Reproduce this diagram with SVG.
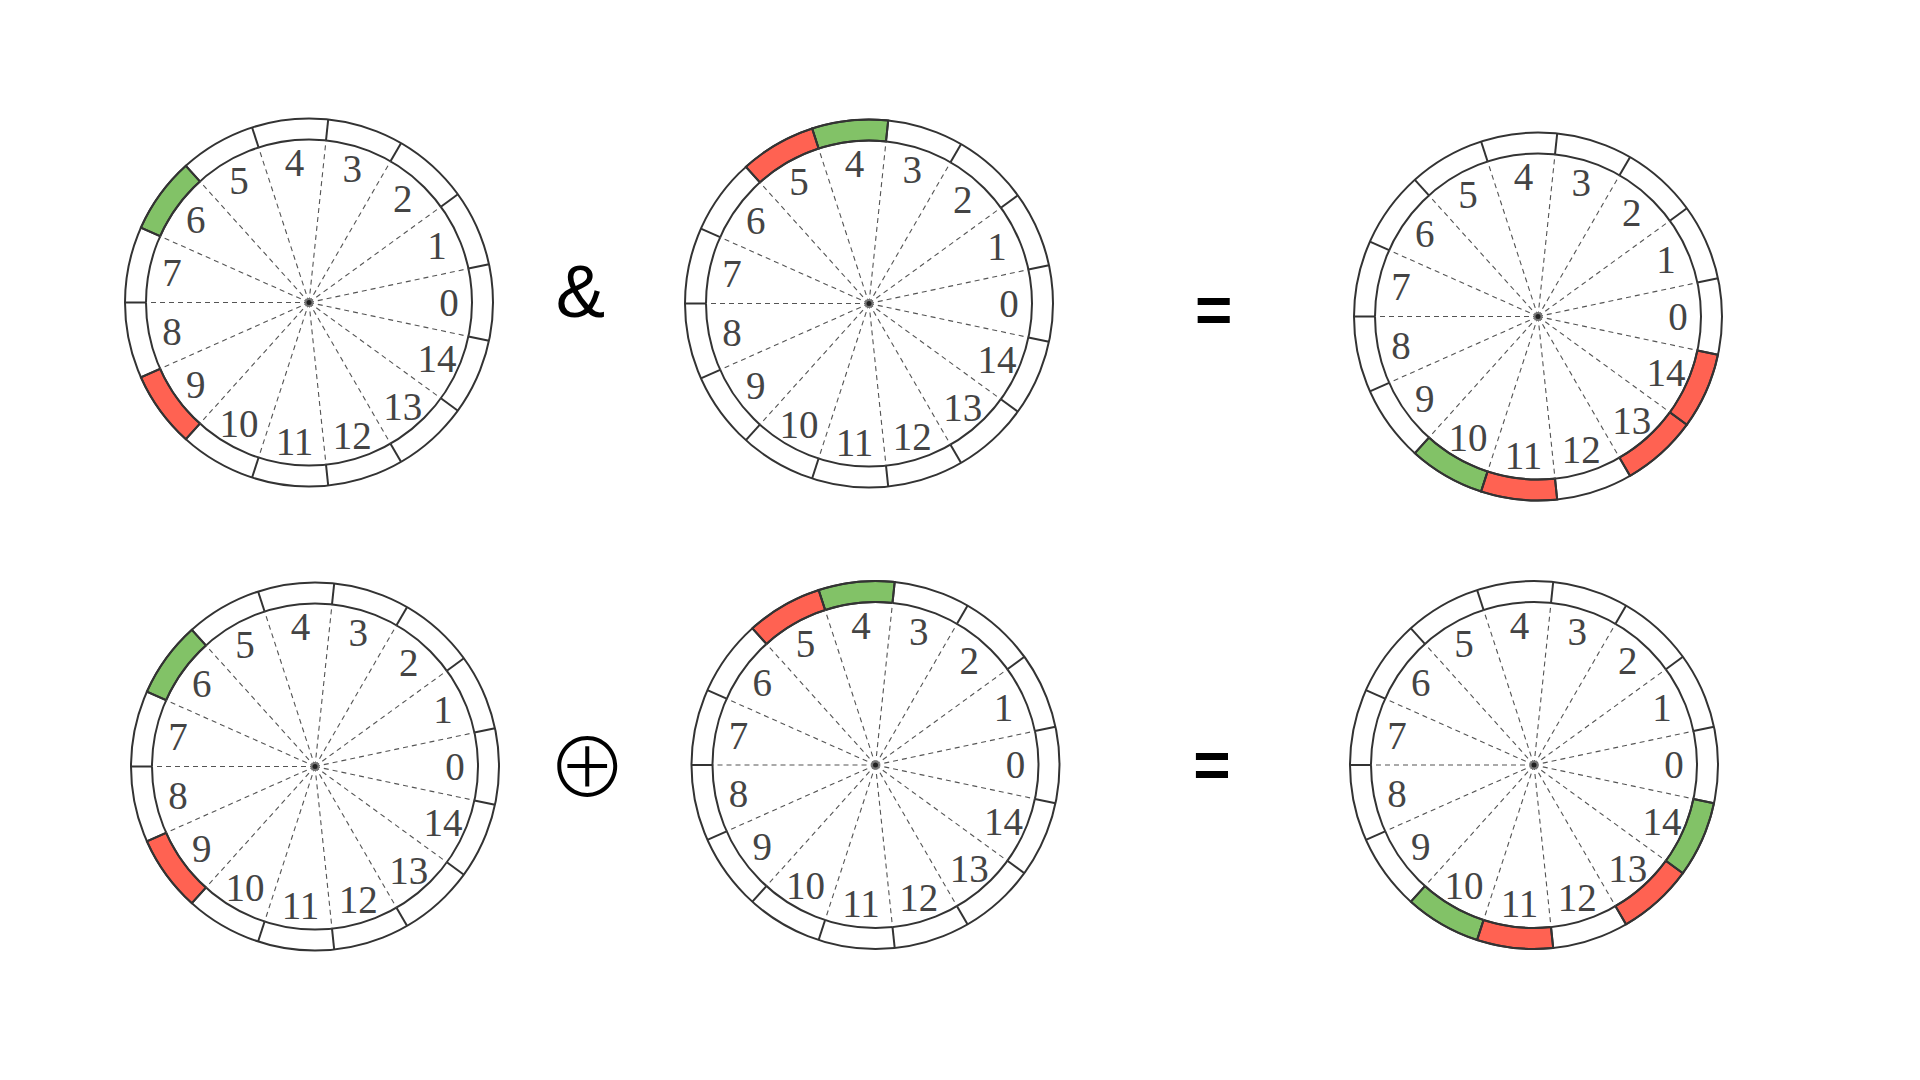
<svg xmlns="http://www.w3.org/2000/svg" xmlns:xlink="http://www.w3.org/1999/xlink" width="1920" height="1080" viewBox="0 0 1920 1080">
<style>
.ring{fill:none;stroke:#333;stroke-width:2}
.tick{stroke:#333;stroke-width:2}
.spoke{stroke:#555;stroke-width:1.1;stroke-dasharray:5 4}
.seg{stroke:#333;stroke-width:2}
.g{fill:#82c267}
.r{fill:#ff6252}
.lbl{font-family:"Liberation Serif","DejaVu Serif",serif;font-size:39px;fill:#444;text-anchor:middle}
.op{font-family:"Liberation Sans","DejaVu Sans",sans-serif;fill:#000;text-anchor:middle}
</style>
<defs>
<g id="spokes">
<line class="spoke" x1="0" y1="0" x2="159.4" y2="-33.9"/>
<line class="spoke" x1="0" y1="0" x2="131.9" y2="-95.8"/>
<line class="spoke" x1="0" y1="0" x2="81.5" y2="-141.2"/>
<line class="spoke" x1="0" y1="0" x2="17.0" y2="-162.1"/>
<line class="spoke" x1="0" y1="0" x2="-50.4" y2="-155.0"/>
<line class="spoke" x1="0" y1="0" x2="-109.1" y2="-121.1"/>
<line class="spoke" x1="0" y1="0" x2="-148.9" y2="-66.3"/>
<line class="spoke" x1="0" y1="0" x2="-163" y2="0"/>
<line class="spoke" x1="0" y1="0" x2="-148.9" y2="66.3"/>
<line class="spoke" x1="0" y1="0" x2="-109.1" y2="121.1"/>
<line class="spoke" x1="0" y1="0" x2="-50.4" y2="155.0"/>
<line class="spoke" x1="0" y1="0" x2="17.0" y2="162.1"/>
<line class="spoke" x1="0" y1="0" x2="81.5" y2="141.2"/>
<line class="spoke" x1="0" y1="0" x2="131.9" y2="95.8"/>
<line class="spoke" x1="0" y1="0" x2="159.4" y2="33.9"/>
<circle cx="0" cy="0" r="4.5" fill="#777"/>
<circle cx="0" cy="0" r="2.5" fill="#222"/>
</g>
<g id="rim">
<circle class="ring" cx="0" cy="0" r="184"/>
<circle class="ring" cx="0" cy="0" r="163"/>
<line class="tick" x1="159.4" y1="-33.9" x2="180.0" y2="-38.3"/>
<line class="tick" x1="131.9" y1="-95.8" x2="148.9" y2="-108.2"/>
<line class="tick" x1="81.5" y1="-141.2" x2="92" y2="-159.3"/>
<line class="tick" x1="17.0" y1="-162.1" x2="19.2" y2="-183.0"/>
<line class="tick" x1="-50.4" y1="-155.0" x2="-56.9" y2="-175.0"/>
<line class="tick" x1="-109.1" y1="-121.1" x2="-123.1" y2="-136.7"/>
<line class="tick" x1="-148.9" y1="-66.3" x2="-168.1" y2="-74.8"/>
<line class="tick" x1="-163" y1="0" x2="-184" y2="0"/>
<line class="tick" x1="-148.9" y1="66.3" x2="-168.1" y2="74.8"/>
<line class="tick" x1="-109.1" y1="121.1" x2="-123.1" y2="136.7"/>
<line class="tick" x1="-50.4" y1="155.0" x2="-56.9" y2="175.0"/>
<line class="tick" x1="17.0" y1="162.1" x2="19.2" y2="183.0"/>
<line class="tick" x1="81.5" y1="141.2" x2="92" y2="159.3"/>
<line class="tick" x1="131.9" y1="95.8" x2="148.9" y2="108.2"/>
<line class="tick" x1="159.4" y1="33.9" x2="180.0" y2="38.3"/>
</g>
<path id="s4" d="M19.2,-183.0 A184,184 0 0 0 -56.9,-175.0 L-50.4,-155.0 A163,163 0 0 1 17.0,-162.1 Z"/>
<path id="s5" d="M-56.9,-175.0 A184,184 0 0 0 -123.1,-136.7 L-109.1,-121.1 A163,163 0 0 1 -50.4,-155.0 Z"/>
<path id="s6" d="M-123.1,-136.7 A184,184 0 0 0 -168.1,-74.8 L-148.9,-66.3 A163,163 0 0 1 -109.1,-121.1 Z"/>
<path id="s9" d="M-168.1,74.8 A184,184 0 0 0 -123.1,136.7 L-109.1,121.1 A163,163 0 0 1 -148.9,66.3 Z"/>
<path id="s10" d="M-123.1,136.7 A184,184 0 0 0 -56.9,175.0 L-50.4,155.0 A163,163 0 0 1 -109.1,121.1 Z"/>
<path id="s11" d="M-56.9,175.0 A184,184 0 0 0 19.2,183.0 L17.0,162.1 A163,163 0 0 1 -50.4,155.0 Z"/>
<path id="s13" d="M92,159.3 A184,184 0 0 0 148.9,108.2 L131.9,95.8 A163,163 0 0 1 81.5,141.2 Z"/>
<path id="s14" d="M148.9,108.2 A184,184 0 0 0 180.0,38.3 L159.4,33.9 A163,163 0 0 1 131.9,95.8 Z"/>
</defs>
<rect width="1920" height="1080" fill="#fff"/>

<g id="wheel-a" transform="translate(309,302.5)">
<use xlink:href="#s6" class="seg g"/>
<use xlink:href="#s9" class="seg r"/>
<use xlink:href="#rim"/>
<use xlink:href="#spokes"/>
<text class="lbl" x="140" y="13">0</text><text class="lbl" x="127.9" y="-43.9">1</text><text class="lbl" x="93.7" y="-91">2</text><text class="lbl" x="43.3" y="-120.1">3</text><text class="lbl" x="-14.6" y="-126.2">4</text><text class="lbl" x="-70" y="-108.2">5</text><text class="lbl" x="-113.3" y="-69.3">6</text><text class="lbl" x="-136.9" y="-16.1">7</text><text class="lbl" x="-136.9" y="42.1">8</text><text class="lbl" x="-113.3" y="95.3">9</text><text class="lbl" x="-70" y="134.2">10</text><text class="lbl" x="-14.6" y="152.2">11</text><text class="lbl" x="43.3" y="146.1">12</text><text class="lbl" x="93.7" y="117">13</text><text class="lbl" x="127.9" y="69.9">14</text>
</g>

<g id="wheel-b" transform="translate(869,303.5)">
<use xlink:href="#s4" class="seg g"/>
<use xlink:href="#s5" class="seg r"/>
<use xlink:href="#rim"/>
<use xlink:href="#spokes"/>
<text class="lbl" x="140" y="13">0</text><text class="lbl" x="127.9" y="-43.9">1</text><text class="lbl" x="93.7" y="-91">2</text><text class="lbl" x="43.3" y="-120.1">3</text><text class="lbl" x="-14.6" y="-126.2">4</text><text class="lbl" x="-70" y="-108.2">5</text><text class="lbl" x="-113.3" y="-69.3">6</text><text class="lbl" x="-136.9" y="-16.1">7</text><text class="lbl" x="-136.9" y="42.1">8</text><text class="lbl" x="-113.3" y="95.3">9</text><text class="lbl" x="-70" y="134.2">10</text><text class="lbl" x="-14.6" y="152.2">11</text><text class="lbl" x="43.3" y="146.1">12</text><text class="lbl" x="93.7" y="117">13</text><text class="lbl" x="127.9" y="69.9">14</text>
</g>

<g id="wheel-c" transform="translate(1538,316.5)">
<use xlink:href="#s10" class="seg g"/>
<use xlink:href="#s11" class="seg r"/>
<use xlink:href="#s13" class="seg r"/>
<use xlink:href="#s14" class="seg r"/>
<use xlink:href="#rim"/>
<use xlink:href="#spokes"/>
<text class="lbl" x="140" y="13">0</text><text class="lbl" x="127.9" y="-43.9">1</text><text class="lbl" x="93.7" y="-91">2</text><text class="lbl" x="43.3" y="-120.1">3</text><text class="lbl" x="-14.6" y="-126.2">4</text><text class="lbl" x="-70" y="-108.2">5</text><text class="lbl" x="-113.3" y="-69.3">6</text><text class="lbl" x="-136.9" y="-16.1">7</text><text class="lbl" x="-136.9" y="42.1">8</text><text class="lbl" x="-113.3" y="95.3">9</text><text class="lbl" x="-70" y="134.2">10</text><text class="lbl" x="-14.6" y="152.2">11</text><text class="lbl" x="43.3" y="146.1">12</text><text class="lbl" x="93.7" y="117">13</text><text class="lbl" x="127.9" y="69.9">14</text>
</g>

<g id="wheel-d" transform="translate(315,766.5)">
<use xlink:href="#s6" class="seg g"/>
<use xlink:href="#s9" class="seg r"/>
<use xlink:href="#rim"/>
<use xlink:href="#spokes"/>
<text class="lbl" x="140" y="13">0</text><text class="lbl" x="127.9" y="-43.9">1</text><text class="lbl" x="93.7" y="-91">2</text><text class="lbl" x="43.3" y="-120.1">3</text><text class="lbl" x="-14.6" y="-126.2">4</text><text class="lbl" x="-70" y="-108.2">5</text><text class="lbl" x="-113.3" y="-69.3">6</text><text class="lbl" x="-136.9" y="-16.1">7</text><text class="lbl" x="-136.9" y="42.1">8</text><text class="lbl" x="-113.3" y="95.3">9</text><text class="lbl" x="-70" y="134.2">10</text><text class="lbl" x="-14.6" y="152.2">11</text><text class="lbl" x="43.3" y="146.1">12</text><text class="lbl" x="93.7" y="117">13</text><text class="lbl" x="127.9" y="69.9">14</text>
</g>

<g id="wheel-e" transform="translate(875.5,765)">
<use xlink:href="#s4" class="seg g"/>
<use xlink:href="#s5" class="seg r"/>
<use xlink:href="#rim"/>
<use xlink:href="#spokes"/>
<text class="lbl" x="140" y="13">0</text><text class="lbl" x="127.9" y="-43.9">1</text><text class="lbl" x="93.7" y="-91">2</text><text class="lbl" x="43.3" y="-120.1">3</text><text class="lbl" x="-14.6" y="-126.2">4</text><text class="lbl" x="-70" y="-108.2">5</text><text class="lbl" x="-113.3" y="-69.3">6</text><text class="lbl" x="-136.9" y="-16.1">7</text><text class="lbl" x="-136.9" y="42.1">8</text><text class="lbl" x="-113.3" y="95.3">9</text><text class="lbl" x="-70" y="134.2">10</text><text class="lbl" x="-14.6" y="152.2">11</text><text class="lbl" x="43.3" y="146.1">12</text><text class="lbl" x="93.7" y="117">13</text><text class="lbl" x="127.9" y="69.9">14</text>
</g>

<g id="wheel-f" transform="translate(1534,765)">
<use xlink:href="#s10" class="seg g"/>
<use xlink:href="#s11" class="seg r"/>
<use xlink:href="#s13" class="seg r"/>
<use xlink:href="#s14" class="seg g"/>
<use xlink:href="#rim"/>
<use xlink:href="#spokes"/>
<text class="lbl" x="140" y="13">0</text><text class="lbl" x="127.9" y="-43.9">1</text><text class="lbl" x="93.7" y="-91">2</text><text class="lbl" x="43.3" y="-120.1">3</text><text class="lbl" x="-14.6" y="-126.2">4</text><text class="lbl" x="-70" y="-108.2">5</text><text class="lbl" x="-113.3" y="-69.3">6</text><text class="lbl" x="-136.9" y="-16.1">7</text><text class="lbl" x="-136.9" y="42.1">8</text><text class="lbl" x="-113.3" y="95.3">9</text><text class="lbl" x="-70" y="134.2">10</text><text class="lbl" x="-14.6" y="152.2">11</text><text class="lbl" x="43.3" y="146.1">12</text><text class="lbl" x="93.7" y="117">13</text><text class="lbl" x="127.9" y="69.9">14</text>
</g>

<g id="operators">
<text id="op-and" class="op" x="580.5" y="317" font-size="74">&amp;</text>
<text id="op-eq1" class="op" x="1213.8" y="332" font-size="64" font-weight="bold">=</text>
<text id="op-xor" x="587.3" y="797" font-family="Noto Sans CJK SC, sans-serif" font-size="81" font-weight="300" text-anchor="middle" fill="#000">⊕</text>
<text id="op-eq2" class="op" x="1212" y="787" font-size="64" font-weight="bold">=</text>
</g>
</svg>
